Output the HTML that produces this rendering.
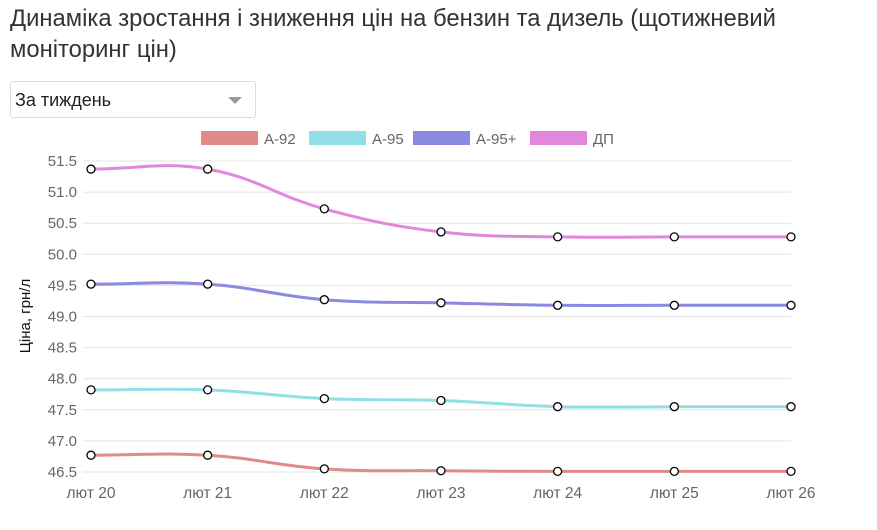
<!DOCTYPE html>
<html><head><meta charset="utf-8"><style>
body{margin:0;background:#fff;width:877px;height:530px;overflow:hidden;font-family:"Liberation Sans",sans-serif;}
#title{position:absolute;left:10px;top:3px;font-size:23.8px;color:#333;line-height:31px;width:800px;}
#sel{position:absolute;left:10px;top:81px;width:246px;height:37px;border:1px solid #ddd;border-radius:3px;box-sizing:border-box;font-size:18px;color:#222;padding:8px 0 0 4px;}
#sel .arr{position:absolute;right:13px;top:15px;width:0;height:0;border-left:7px solid transparent;border-right:7px solid transparent;border-top:7px solid #999;}
svg{position:absolute;left:0;top:0;}
</style></head><body>
<div id="title">Динаміка зростання і зниження цін на бензин та дизель (щотижневий моніторинг цін)</div>
<div id="sel">За тиждень<span class="arr"></span></div>
<svg id="chart" width="877" height="530"></svg>
<script>
const categories=["лют 20","лют 21","лют 22","лют 23","лют 24","лют 25","лют 26"];
const seriesNames=["А-92","А-95","А-95+","ДП"];
const a92=[46.77,46.77,46.55,46.52,46.51,46.51,46.51];
const a95=[47.82,47.82,47.68,47.65,47.55,47.55,47.55];
const a95p=[49.52,49.52,49.27,49.22,49.18,49.18,49.18];
const dp=[51.37,51.37,50.73,50.36,50.28,50.28,50.28];
const yTicks=[46.5,47.0,47.5,48.0,48.5,49.0,49.5,50.0,50.5,51.0,51.5];
const colors=["#e18a8a","#8fdfe4","#8a8ae0","#e288dc"];
const series=[a92,a95,a95p,dp];
const NS="http://www.w3.org/2000/svg";
const svg=document.getElementById('chart');
const X0=91,X1=791,Y0=472,Y1=161,YMIN=46.5,YMAX=51.5;
const xs=i=>X0+(X1-X0)*i/(categories.length-1);
const ys=v=>Y0-(v-YMIN)/(YMAX-YMIN)*(Y0-Y1);
function mk(t,a){const e=document.createElementNS(NS,t);for(const k in a)e.setAttribute(k,a[k]);svg.appendChild(e);return e;}
yTicks.forEach(v=>{
 const l=mk('line',{x1:X0-8,x2:X1,y1:ys(v),y2:ys(v),stroke:'#e4e4e4','stroke-width':1});
 
 
 const t=mk('text',{x:X0-14,y:ys(v)+5,'text-anchor':'end','font-size':15,fill:'#666'});
 t.textContent=v.toFixed(1);
 
 
});
categories.forEach((c,i)=>{
 const t=mk('text',{x:xs(i),y:498,'text-anchor':'middle','font-size':15.5,fill:'#666'});
 t.textContent=c;
 
 
});
const at=mk('text',{x:0,y:0,transform:'translate(30,316) rotate(-90)','text-anchor':'middle','font-size':15,fill:'#111'});
at.textContent='Ціна, грн/л';


const lx=[201,309,413,530];
seriesNames.forEach((n,i)=>{
 const r=mk('rect',{x:lx[i],y:131,width:57,height:14,fill:colors[i]});
 
 
 const t=mk('text',{x:lx[i]+63,y:144,'font-size':15,fill:'#666'});
 t.textContent=n;
 
 
});
function path(pts){
 const ten=0.4;let d=`M${pts[0][0]},${pts[0][1]}`;
 const cps=pts.map((p,i)=>{
  const prev=pts[i-1]||p,next=pts[i+1]||p;
  const d01=Math.hypot(p[0]-prev[0],p[1]-prev[1]),d12=Math.hypot(next[0]-p[0],next[1]-p[1]);
  let fa=d01/(d01+d12)||0,fb=d12/(d01+d12)||0;fa*=ten;fb*=ten;
  return {p:[p[0]-fa*(next[0]-prev[0]),p[1]-fa*(next[1]-prev[1])],n:[p[0]+fb*(next[0]-prev[0]),p[1]+fb*(next[1]-prev[1])]};
 });
 for(let i=1;i<pts.length;i++){d+=` C${cps[i-1].n[0]},${cps[i-1].n[1]} ${cps[i].p[0]},${cps[i].p[1]} ${pts[i][0]},${pts[i][1]}`;}
 return d;
}
series.forEach((s,k)=>{
 const pts=s.map((v,i)=>[xs(i),ys(v)]);
 const p=mk('path',{d:path(pts),fill:'none',stroke:colors[k],'stroke-width':3});
 
 
 pts.forEach(q=>{
  const c=mk('circle',{cx:q[0],cy:q[1],r:4,fill:'#fff',stroke:'#000','stroke-width':1.3});
  
  
 });
});
</script>
</body></html>
